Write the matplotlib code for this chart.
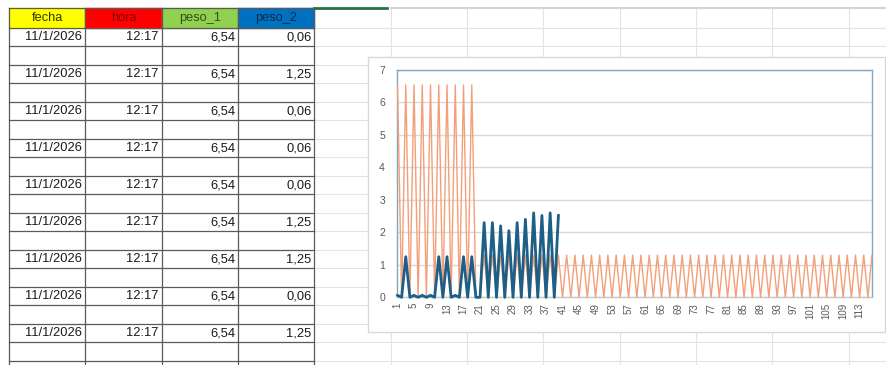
import matplotlib
matplotlib.use('Agg')

import matplotlib.pyplot as plt
from matplotlib.patches import Rectangle
import numpy as np

plt.rcParams['font.family'] = ['Liberation Sans', 'DejaVu Sans']

# sheet data (visible rows)
headers = ['fecha', 'hora', 'peso_1', 'peso_2']
fechas = ['11/1/2026'] * 9
horas = ['12:17'] * 9
pesos_1 = ['6,54'] * 9
pesos_2 = ['0,06', '1,25', '0,06', '0,06', '0,06', '1,25', '1,25', '0,06', '1,25']

# chart series, one value per category 1..116
peso_1 = [6.54, 0, 6.54, 0, 6.54, 0, 6.54, 0, 6.54, 0, 6.54, 0, 6.54, 0, 6.54, 0, 6.54, 0, 6.54, 0,
          0, 1.3, 0, 1.3, 0, 1.3, 0, 1.3, 0, 1.3, 0, 1.3, 0, 1.3, 0, 1.3, 0, 1.3, 0, 1.3,
          0, 1.3, 0, 1.3, 0, 1.3, 0, 1.3, 0, 1.3, 0, 1.3, 0, 1.3, 0, 1.3, 0, 1.3, 0, 1.3,
          0, 1.3, 0, 1.3, 0, 1.3, 0, 1.3, 0, 1.3, 0, 1.3, 0, 1.3, 0, 1.3, 0, 1.3, 0, 1.3,
          0, 1.3, 0, 1.3, 0, 1.3, 0, 1.3, 0, 1.3, 0, 1.3, 0, 1.3, 0, 1.3, 0, 1.3, 0, 1.3,
          0, 1.3, 0, 1.3, 0, 1.3, 0, 1.3, 0, 1.3, 0, 1.3, 0, 1.3, 0, 1.3]
peso_2 = [0.06, 0, 1.25, 0, 0.06, 0, 0.06, 0, 0.06, 0, 1.25, 0, 1.25, 0, 0.06, 0, 1.25, 0, 1.25, 0,
          0, 2.3, 0, 2.3, 0, 2.2, 0, 2.05, 0, 2.3, 0, 2.4, 0, 2.6, 0, 2.52, 0, 2.6, 0, 2.52]
categories = np.arange(1, len(peso_1) + 1)
peso_2_full = np.full(len(categories), np.nan)
peso_2_full[:len(peso_2)] = peso_2

W, H = 887, 365
fig = plt.figure(figsize=(W / 100, H / 100), dpi=100)
bg = fig.add_axes([0, 0, 1, 1])
bg.set_xlim(0, W)
bg.set_ylim(H, 0)
bg.axis('off')

col_w = 76.35
x0 = 9
top = 8.3
head_bot = 27.5
row_h = 18.5
cols = [x0 + col_w * k for k in range(12)]
rows = [head_bot + row_h * k for k in range(19)]

# light sheet grid to the right of the table
for y in rows:
    bg.plot([cols[4], W], [y, y], color='#e3e3e3', lw=0.8, zorder=1)
for x in cols[5:]:
    bg.plot([x, x], [top, H], color='#e3e3e3', lw=0.8, zorder=1)
bg.plot([cols[5], W], [top, top], color='#d4d4d4', lw=1.5, zorder=1)
bg.plot([cols[4], cols[5] - 4], [top, top], color='#217346', lw=2, zorder=3)

# header cells
head_colors = ['#ffff00', '#ff0000', '#92d050', '#0070c0']
head_text = ['#333300', '#7a0000', '#2f4f1f', '#0d2b4d']
for i, name in enumerate(headers):
    bg.add_patch(Rectangle((cols[i], top), col_w, head_bot - top, color=head_colors[i], zorder=2))
    bg.text(cols[i] + col_w / 2, (top + head_bot) / 2 + 0.5, name, ha='center', va='center',
            fontsize=9.2, color=head_text[i], zorder=4)

# table borders
for x in cols[:5]:
    bg.plot([x, x], [top, H], color='#5a5a5a', lw=0.9, zorder=3)
bg.plot([cols[0], cols[4]], [top, top], color='#5a5a5a', lw=0.9, zorder=3)
for y in rows:
    bg.plot([cols[0], cols[4]], [y, y], color='#5a5a5a', lw=0.9, zorder=3)

# table values (data every other row)
for r in range(len(fechas)):
    yc = rows[2 * r] + row_h / 2 + 0.5
    for i, val in enumerate([fechas[r], horas[r], pesos_1[r], pesos_2[r]]):
        bg.text(cols[i + 1] - 3, yc, val, ha='right', va='center', fontsize=9.3, color='#1a1a1a', zorder=4)

# chart area
bg.add_patch(Rectangle((368.3, 57.3), 885 - 368.3, 331.7 - 57.3, facecolor='white',
                       edgecolor='#d9d9d9', lw=1, zorder=5))

pl, pr, pt, pb = 397.5, 872, 70, 297.3
ax = fig.add_axes([pl / W, (H - pb) / H, (pr - pl) / W, (pb - pt) / H], zorder=6)
ax.set_facecolor('white')
ax.plot(categories, peso_1, color='#f2a07a', lw=1.0, clip_on=False, zorder=3)
ax.plot(categories, peso_2_full, color='#1d5f86', lw=2.0, clip_on=False, zorder=4)
ax.set_xlim(1, len(categories))
ax.set_ylim(0, 7)
ax.set_yticks(range(0, 8))
ax.set_xticks(categories[::4])
ax.set_xticklabels([str(c) for c in categories[::4]], rotation=90)
ax.tick_params(axis='y', length=0, pad=9, labelsize=7.5, labelcolor='#595959')
ax.tick_params(axis='x', length=0, pad=4, labelsize=7, labelcolor='#595959')
ax.grid(axis='y', color='#d9d9d9', lw=1)
ax.set_axisbelow(True)
for s in ['top', 'left', 'right']:
    ax.spines[s].set_color('#7ea8c4')
    ax.spines[s].set_linewidth(1)
ax.spines['bottom'].set_color('#c8c8c8')
ax.spines['bottom'].set_linewidth(1)

plt.savefig('out.png', dpi=100)
